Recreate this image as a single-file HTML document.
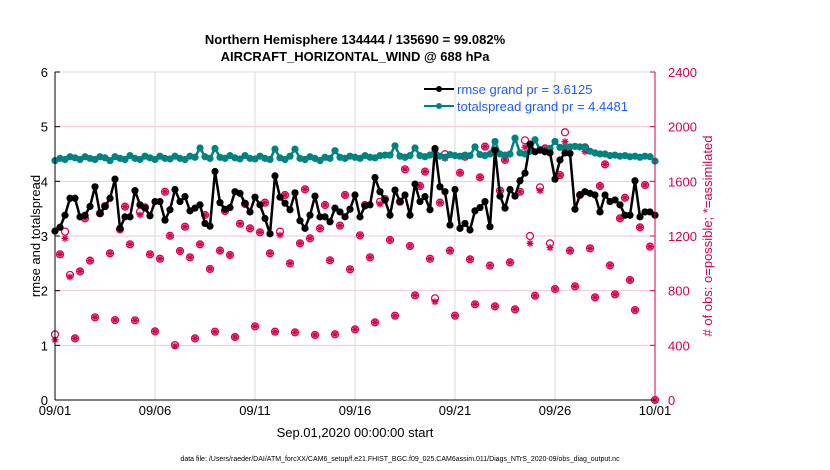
<!DOCTYPE html>
<html><head><meta charset="utf-8">
<style>
body{margin:0;background:#fff;font-family:"Liberation Sans",sans-serif;}
svg{display:block}
</style></head>
<body>
<svg id="chart" width="830" height="470" viewBox="0 0 830 470">
<text x="355" y="44" text-anchor="middle" font-size="13" font-weight="bold">Northern Hemisphere 134444 / 135690 = 99.082%</text>
<text x="355" y="61" text-anchor="middle" font-size="13" font-weight="bold">AIRCRAFT_HORIZONTAL_WIND @ 688 hPa</text>
<g id="grid"></g>
<g id="series"></g>
<g id="axes"></g>
<text transform="translate(40,236) rotate(-90)" text-anchor="middle" font-size="13">rmse and totalspread</text>
<text transform="translate(712,236) rotate(-90)" text-anchor="middle" font-size="13" fill="#d6004f"># of obs: o=possible; *=assimilated</text>
<text x="355" y="437" text-anchor="middle" font-size="13">Sep.01,2020 00:00:00 start</text>
<text x="400" y="461" text-anchor="middle" font-size="7">data file: /Users/raeder/DAI/ATM_forcXX/CAM6_setup/f.e21.FHIST_BGC.f09_025.CAM6assim.011/Diags_NTrS_2020-09/obs_diag_output.nc</text>
<g>
<line x1="424" y1="89" x2="454" y2="89" stroke="#000" stroke-width="2"/>
<circle cx="439" cy="89" r="3" fill="#000"/>
<text x="457" y="94" font-size="13" fill="#1f5cff">rmse grand pr = 3.6125</text>
<line x1="424" y1="106" x2="454" y2="106" stroke="#00837f" stroke-width="2"/>
<circle cx="439" cy="106" r="3" fill="#00837f"/>
<text x="457" y="111" font-size="13" fill="#1f5cff">totalspread grand pr = 4.4481</text>
</g>
</svg>
<script>
const rmse=[3.09,3.16,3.38,3.69,3.69,3.35,3.38,3.54,3.90,3.41,3.54,3.69,4.04,3.14,3.35,3.35,3.83,3.57,3.51,3.37,3.63,3.63,3.29,3.48,3.85,3.63,3.72,3.46,3.51,3.57,3.23,3.18,4.18,3.61,3.49,3.52,3.81,3.78,3.60,3.44,3.71,
3.57,3.32,3.04,4.10,3.71,3.60,3.48,3.79,3.28,3.14,3.38,3.73,3.35,3.35,3.26,3.51,3.44,3.35,3.49,3.75,3.35,3.55,3.57,4.07,3.81,3.66,3.38,3.84,3.63,3.75,3.38,3.95,3.63,3.72,3.48,4.60,3.90,3.81,3.20,3.85,
3.14,3.23,3.11,3.46,3.52,3.63,3.17,4.57,3.73,3.51,3.85,3.73,4.01,4.15,4.68,4.54,4.57,4.54,4.52,4.04,4.39,4.52,4.51,3.49,3.75,3.81,3.78,3.75,3.44,3.75,3.63,3.66,3.57,3.38,3.38,4.01,3.35,3.44,3.44,3.38];
const spread=[4.38,4.42,4.40,4.45,4.43,4.40,4.45,4.42,4.40,4.45,4.43,4.38,4.45,4.42,4.40,4.47,4.42,4.40,4.46,4.43,4.40,4.46,4.42,4.41,4.46,4.42,4.40,4.46,4.44,4.61,4.45,4.42,4.60,4.44,4.42,4.47,4.43,4.41,4.47,4.42,4.41,
4.46,4.42,4.40,4.59,4.43,4.40,4.46,4.59,4.42,4.40,4.45,4.42,4.38,4.44,4.42,4.56,4.44,4.42,4.46,4.44,4.42,4.47,4.44,4.43,4.47,4.48,4.48,4.65,4.46,4.44,4.47,4.61,4.47,4.45,4.48,4.59,4.46,4.44,4.49,4.47,
4.46,4.48,4.47,4.63,4.49,4.47,4.50,4.73,4.50,4.48,4.50,4.79,4.52,4.50,4.55,4.76,4.58,4.55,4.60,4.73,4.62,4.62,4.63,4.64,4.63,4.62,4.55,4.52,4.50,4.50,4.47,4.48,4.46,4.47,4.45,4.46,4.44,4.46,4.45,4.37];
const possible=[480,1066,1232,915,451,941,1329,1020,605,1366,1419,1073,585,1249,1415,1139,583,1378,1410,1066,502,1034,1524,1202,402,1090,1268,1044,451,1139,1354,959,500,1093,1383,1061,461,1290,1434,1256,539,
1227,1444,1073,500,1232,1500,1000,495,1146,1541,1183,476,1256,1427,1022,481,1276,1500,956,517,1205,1427,1044,568,1451,1470,1171,617,1451,1688,1127,766,1566,1671,1034,744,1444,1798,1093,617,
1663,1780,1029,700,1629,1854,983,685,1532,1756,1007,663,1524,1900,1200,763,1556,1841,1146,812,1646,1959,1093,832,1500,1849,1110,751,1566,1724,985,773,1329,1480,878,658,1263,1573,1122,0];
const assimilated=[440,1066,1183,900,451,941,1329,1020,605,1366,1419,1073,585,1249,1415,1139,583,1355,1410,1066,502,1034,1524,1202,395,1090,1268,1044,451,1139,1354,959,500,1093,1383,1061,461,1290,1434,1256,539,
1227,1444,1073,500,1207,1500,1000,495,1146,1541,1183,476,1256,1427,1022,481,1276,1500,956,517,1205,1427,1044,568,1434,1460,1171,617,1451,1688,1127,766,1566,1671,1034,719,1444,1768,1093,617,
1663,1780,1029,700,1629,1854,983,685,1532,1756,1007,663,1524,1850,1146,763,1532,1841,1115,812,1646,1890,1093,832,1500,1817,1110,751,1566,1724,985,773,1329,1480,878,658,1263,1573,1122,0];
const xTickLabels=["09/01","09/06","09/11","09/16","09/21","09/26","10/01"];
const yTicks=[0,1,2,3,4,5,6];
const rTicks=[0,400,800,1200,1600,2000,2400];

const NS="http://www.w3.org/2000/svg";
const X0=55,X1=655,Y0=400,Y1=72;
const xs=i=>X0+i*(X1-X0)/120;
const yl=v=>Y0-v*(Y0-Y1)/6;
const yr=v=>Y0-v*(Y0-Y1)/2400;
const PINK="#d6004f",TEAL="#00837f";
function mk(tag,attrs,parent){const e=document.createElementNS(NS,tag);for(const k in attrs)e.setAttribute(k,attrs[k]);parent.appendChild(e);return e;}
const grid=document.getElementById('grid'),ser=document.getElementById('series'),axes=document.getElementById('axes');
mk('rect',{x:X0,y:Y1,width:X1-X0,height:Y0-Y1,fill:'#fff',stroke:'#ddd'},grid);
xTickLabels.forEach((t,i)=>{const x=X0+i*100;
 const l=mk('line',{x1:x,y1:Y1,x2:x,y2:Y0,stroke:'#d9d9d9','stroke-width':1},grid);
 
 
 const tx=mk('text',{x:x,y:415,'text-anchor':'middle','font-size':13},axes);tx.textContent=t;
 
 
});
rTicks.forEach(v=>{const y=yr(v);
 if(v>0&&v<2400){const l=mk('line',{x1:X0,y1:y,x2:X1,y2:y,stroke:'#f5c6d6','stroke-width':1},grid);
 
 }
 mk('line',{x1:X1-5,y1:y,x2:X1,y2:y,stroke:PINK},axes);
 const tx=mk('text',{x:668,y:y+5,'font-size':13,fill:PINK},axes);tx.textContent=v;
 
 
});
yTicks.forEach(v=>{const y=yl(v);
 mk('line',{x1:X0,y1:y,x2:X0+5,y2:y,stroke:'#000'},axes);
 const tx=mk('text',{x:48,y:y+5,'text-anchor':'end','font-size':13},axes);tx.textContent=v;
 
 
});
mk('line',{x1:X0,y1:Y1,x2:X0,y2:Y0,stroke:'#000'},axes);
mk('line',{x1:X0,y1:Y0,x2:X1,y2:Y0,stroke:'#000'},axes);
mk('line',{x1:X1,y1:Y1,x2:X1,y2:Y0,stroke:PINK},axes);

// pink obs markers
possible.forEach((v,i)=>{const c=mk('circle',{cx:xs(i),cy:yr(v),r:3.5,fill:'none',stroke:PINK,'stroke-width':1.2},ser);
 
 });
assimilated.forEach((v,i)=>{const x=xs(i),y=yr(v);
 const p=mk('path',{d:`M${x-3.5} ${y}H${x+3.5}M${x} ${y-3.5}V${y+3.5}M${x-2.5} ${y-2.5}L${x+2.5} ${y+2.5}M${x-2.5} ${y+2.5}L${x+2.5} ${y-2.5}`,stroke:PINK,'stroke-width':1.3},ser);
 
 });
function line(arr,col,name){
 const pl=mk('polyline',{points:arr.map((v,i)=>xs(i)+','+yl(v)).join(' '),fill:'none',stroke:col,'stroke-width':2.5,'stroke-linejoin':'round'},ser);
 
 
 arr.forEach((v,i)=>{const c=mk('circle',{cx:xs(i),cy:yl(v),r:3.6,fill:col},ser);
  
  });
}
line(spread,TEAL,'totalspread');
line(rmse,'#000','rmse');
</script>
</body></html>
